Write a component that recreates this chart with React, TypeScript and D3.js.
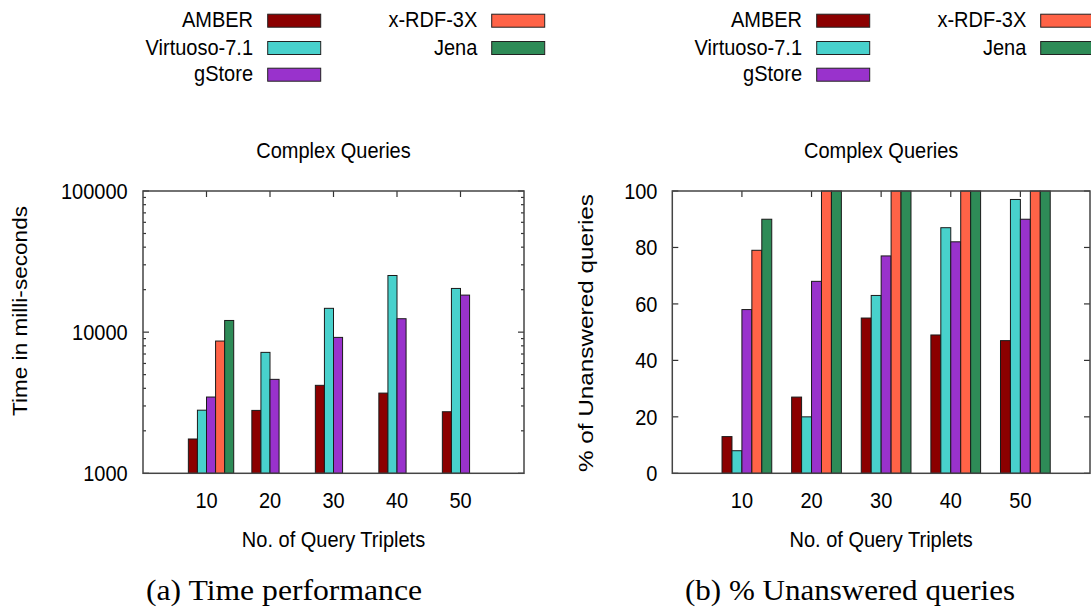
import React from "react";
import * as d3 from "d3";

// values
const categories = [10, 20, 30, 40, 50];
const seriesNames = ["AMBER", "Virtuoso-7.1", "gStore", "x-RDF-3X", "Jena"];
const seriesColors = ["#8b0000", "#48d1cc", "#9932cc", "#ff6347", "#2e8b57"];

// (a) time in ms, log scale (null = not answered)
const timeAmber = [1750, 2790, 4200, 3700, 2730];
const timeVirtuoso = [2800, 7190, 14750, 25200, 20400];
const timeGStore = [3470, 4630, 9180, 12450, 18300];
const timeRdf3x = [8650, null, null, null, null];
const timeJena = [12100, null, null, null, null];

// (b) % unanswered
const unAmber = [13, 27, 55, 49, 47];
const unVirtuoso = [8, 20, 63, 87, 97];
const unGStore = [58, 68, 77, 82, 90];
const unRdf3x = [79, 100, 100, 100, 100];
const unJena = [90, 100, 100, 100, 100];

const logTickLabels = ["1000", "10000", "100000"];
const linTicks = [0, 20, 40, 60, 80, 100];

const SY = 1.13; // the source image is stretched a bit vertically
const SANS = "'Liberation Sans', Arial, Helvetica, sans-serif";
const SERIF = "'Liberation Serif', 'Times New Roman', serif";

function Txt({ x, y, anchor = "middle", size = 20, rot = false, family = SANS, len, children }: any) {
  const tf = `translate(${x},${y}) scale(1,${SY})${rot ? " rotate(-90)" : ""}`;
  return (
    <text
      transform={tf}
      textAnchor={anchor}
      fontSize={size}
      fontFamily={family}
      fill="#000"
      textLength={len}
      lengthAdjust={len ? "spacingAndGlyphs" : undefined}
    >
      {children}
    </text>
  );
}

function Legend({ off }: { off: number }) {
  const rows = [20.7, 48, 74.7];
  const cols = [
    { tx: 253, bx: 267.7 },
    { tx: 477.3, bx: 491.7 },
  ];
  return (
    <g>
      {seriesNames.map((name, i) => {
        const c = cols[i < 3 ? 0 : 1];
        const ry = rows[i < 3 ? i : i - 3];
        return (
          <g key={name}>
            <Txt x={c.tx + off} y={ry + 6.5} anchor="end">{name}</Txt>
            <rect x={c.bx + off} y={ry - 6.5} width={53} height={13} fill={seriesColors[i]} stroke="#222" strokeWidth={1} />
          </g>
        );
      })}
    </g>
  );
}

function Panel({ plot, y, series, isLog, yLabel, yLabelX, yLabelY, yLabelLen, labelRight, caption, captionX, captionLen, off }: any) {
  const x = d3.scaleLinear().domain([0, 60]).range([plot.x0, plot.x1]);
  const bw = (x(10) - x(0)) / 7;
  const cx = (plot.x0 + plot.x1) / 2;
  const bottom = plot.y1;

  let major: number[] = [];
  let minor: number[] = [];
  if (isLog) {
    const all = y.ticks();
    major = all.filter((v: number) => Math.abs(Math.log10(v) - Math.round(Math.log10(v))) < 1e-9);
    minor = all.filter((v: number) => !major.includes(v));
  } else {
    major = linTicks;
  }
  const tickLen = 6;

  return (
    <g>
      <Legend off={off} />
      <Txt x={cx + (off ? 0 : 0)} y={158.3}>Complex Queries</Txt>

      {/* y ticks, mirrored */}
      {major.map((v: number) => (
        <g key={"M" + v}>
          <line x1={plot.x0} x2={plot.x0 + tickLen} y1={y(v)} y2={y(v)} stroke="#333" strokeWidth={1.2} />
          <line x1={plot.x1} x2={plot.x1 - tickLen} y1={y(v)} y2={y(v)} stroke="#333" strokeWidth={1.2} />
        </g>
      ))}
      {minor.map((v: number) => (
        <g key={"m" + v}>
          <line x1={plot.x0} x2={plot.x0 + 3} y1={y(v)} y2={y(v)} stroke="#333" strokeWidth={1.2} />
          <line x1={plot.x1} x2={plot.x1 - 3} y1={y(v)} y2={y(v)} stroke="#333" strokeWidth={1.2} />
        </g>
      ))}
      {/* x ticks, mirrored */}
      {categories.map((c) => (
        <g key={"x" + c}>
          <line x1={x(c)} x2={x(c)} y1={plot.y0} y2={plot.y0 + tickLen} stroke="#333" strokeWidth={1.2} />
          <line x1={x(c)} x2={x(c)} y1={plot.y1} y2={plot.y1 - tickLen} stroke="#333" strokeWidth={1.2} />
        </g>
      ))}

      {/* bars */}
      {series.map((vals: (number | null)[], si: number) =>
        vals.map((v, ci) => {
          if (v == null) return null;
          const left = x(categories[ci]) - 2 * bw + si * bw;
          const top = y(v);
          return (
            <rect
              key={si + "-" + ci}
              x={left}
              y={top}
              width={bw}
              height={bottom - top}
              fill={seriesColors[si]}
              stroke="#1a1a1a"
              strokeWidth={1}
            />
          );
        })
      )}

      <rect x={plot.x0} y={plot.y0} width={plot.x1 - plot.x0} height={plot.y1 - plot.y0} fill="none" stroke="#444" strokeWidth={1.5} />

      {/* tick labels */}
      {major.map((v: number, i: number) => (
        <Txt key={"yl" + v} x={labelRight} y={y(v) + 8} anchor="end">
          {isLog ? logTickLabels[i] : String(v)}
        </Txt>
      ))}
      {categories.map((c) => (
        <Txt key={"xl" + c} x={x(c)} y={507.5}>{String(c)}</Txt>
      ))}

      <Txt x={cx} y={547}>No. of Query Triplets</Txt>
      <Txt x={yLabelX} y={yLabelY} rot len={yLabelLen}>{yLabel}</Txt>
      <Txt x={captionX} y={599.5} anchor="start" size={26} family={SERIF} len={captionLen}>{caption}</Txt>
    </g>
  );
}

export default function App() {
  const left = { x0: 143, x1: 524, y0: 191, y1: 473.3 };
  const right = { x0: 672.3, x1: 1090, y0: 191, y1: 473.3 };
  const yLog = d3.scaleLog().domain([1000, 100000]).range([left.y1, left.y0]);
  const yLin = d3.scaleLinear().domain([0, 100]).range([right.y1, right.y0]);

  return (
    <div style={{ position: "absolute", left: 0, top: 0 }}>
      <svg width={1091} height={609} viewBox="0 0 1091 609" style={{ display: "block", background: "#fff" }}>
        <rect width={1091} height={609} fill="#fff" />
        <Panel
          plot={left}
          y={yLog}
          isLog
          series={[timeAmber, timeVirtuoso, timeGStore, timeRdf3x, timeJena]}
          yLabel="Time in milli-seconds"
          yLabelX={26.5}
          yLabelY={311}
          yLabelLen={210 / SY}
          labelRight={127.7}
          caption="(a) Time performance"
          captionX={146}
          captionLen={276}
          off={0}
        />
        <Panel
          plot={right}
          y={yLin}
          isLog={false}
          series={[unAmber, unVirtuoso, unGStore, unRdf3x, unJena]}
          yLabel="% of Unanswered queries"
          yLabelX={593}
          yLabelY={333}
          yLabelLen={278 / SY}
          labelRight={657.5}
          caption="(b) % Unanswered queries"
          captionX={685}
          captionLen={330}
          off={549}
        />
      </svg>
    </div>
  );
}
